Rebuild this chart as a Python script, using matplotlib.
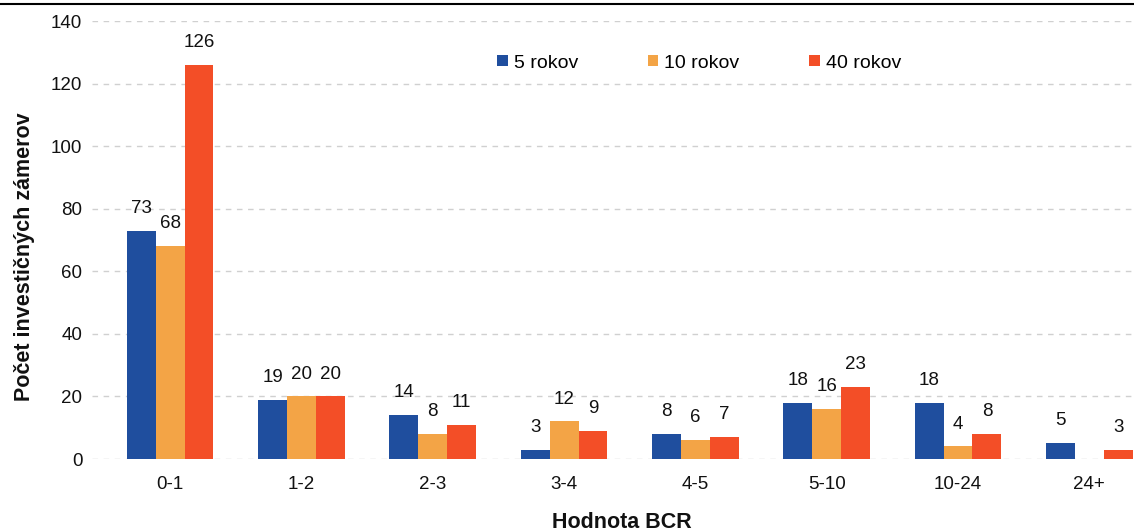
import matplotlib
matplotlib.use("Agg")
import matplotlib.pyplot as plt
from matplotlib.lines import Line2D
import numpy as np

categories = ["0-1", "1-2", "2-3", "3-4", "4-5", "5-10", "10-24", "24+"]
series_names = ["5 rokov", "10 rokov", "40 rokov"]
s5 = [73, 19, 14, 3, 8, 18, 18, 5]
s10 = [68, 20, 8, 12, 6, 16, 4, None]
s40 = [126, 20, 11, 9, 7, 23, 8, 3]
colors = ["#1F4E9E", "#F3A446", "#F34E27"]

plt.rcParams['font.family'] = ['Liberation Sans', 'DejaVu Sans']

W, H = 1134, 531
fig = plt.figure(figsize=(W / 100, H / 100), dpi=100)
ax = fig.add_axes([92 / W, 1 - 459 / H, 1 - 92 / W, (459 - 21) / H])

x = np.arange(len(categories))
w = 0.22
for i, (vals, name, c) in enumerate(zip([s5, s10, s40], series_names, colors)):
    xs = x + (i - 1) * w
    v = np.array([np.nan if a is None else a for a in vals], dtype=float)
    ax.bar(xs, np.nan_to_num(v), width=w, color=c, label=name, zorder=3)
    for xi, vi in zip(xs, v):
        if not np.isnan(vi):
            ax.annotate(f"{int(vi)}", (xi, vi), xytext=(0, 10), textcoords="offset points",
                        ha="center", va="bottom", fontsize=13.5, color="#111111")

ax.set_ylim(0, 140)
ax.set_yticks(np.arange(0, 141, 20))
ax.set_xlim(-0.595, 7.34)
ax.set_xticks(x)
ax.set_xticklabels(categories)
ax.tick_params(axis='both', length=0, labelsize=13.5, colors="#111111")
ax.tick_params(axis='y', pad=7)
ax.tick_params(axis='x', pad=12)
for s in ax.spines.values():
    s.set_visible(False)
ax.yaxis.grid(True, linestyle=(0, (4, 4)), color="#D0D0D0", linewidth=1, zorder=0)
ax.set_axisbelow(True)

fig.text(25 / W, 1 - 257 / H, "Počet investičných zámerov", rotation=90, ha="center", va="center",
         fontsize=15.5, fontweight="bold", color="#111111")
fig.text(622 / W, 1 - 522 / H, "Hodnota BCR", ha="center", va="center",
         fontsize=15.5, fontweight="bold", color="#111111")

leg = ax.legend(loc="center left", bbox_to_anchor=(497 / W, 1 - 63 / H), bbox_transform=fig.transFigure,
                ncol=3, frameon=False, fontsize=14, handlelength=0.55, handleheight=0.55,
                handletextpad=0.3, columnspacing=3.6, borderpad=0, borderaxespad=0)

fig.add_artist(Line2D([0, 1], [1 - 4 / H, 1 - 4 / H], color="black", linewidth=1.5))

fig.savefig("out.png", dpi=100)
